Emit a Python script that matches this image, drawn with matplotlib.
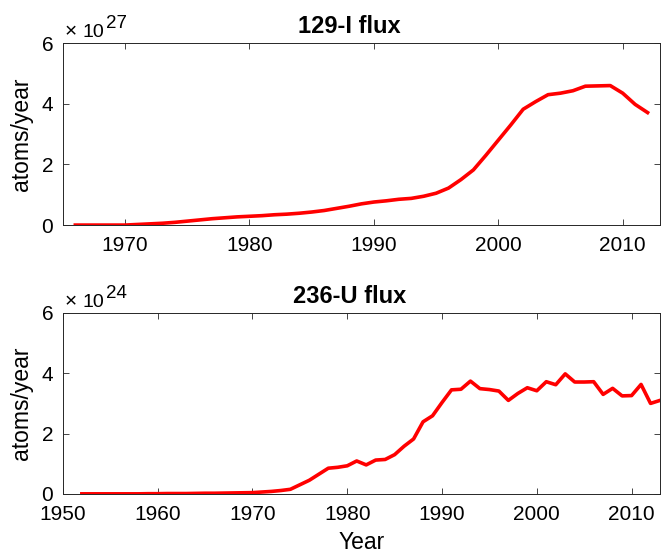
import numpy as np
import matplotlib
matplotlib.use('Agg')
import matplotlib.pyplot as plt

plt.rcParams['font.family'] = ['Liberation Sans', 'DejaVu Sans']

# 129-I flux, units of 1e27 atoms/year
years_i = list(range(1966, 2013))
flux_i = [0.0, 0.0, 0.0, 0.0, 0.0, 0.02, 0.04, 0.06, 0.09, 0.13,
          0.17, 0.21, 0.24, 0.27, 0.29, 0.31, 0.34, 0.36, 0.39, 0.43,
          0.48, 0.55, 0.62, 0.70, 0.76, 0.80, 0.85, 0.88, 0.95, 1.05,
          1.22, 1.50, 1.82, 2.30, 2.80, 3.30, 3.82, 4.07, 4.30, 4.35,
          4.43, 4.58, 4.59, 4.60, 4.35, 3.98, 3.71]

# 236-U flux, units of 1e24 atoms/year
years_u = list(range(1952, 2014))
flux_u = [0.0, 0.0, 0.0, 0.0, 0.0, 0.0, 0.0, 0.005, 0.005, 0.01,
          0.01, 0.01, 0.015, 0.02, 0.02, 0.025, 0.03, 0.035, 0.04, 0.06,
          0.08, 0.11, 0.15, 0.30, 0.45, 0.65, 0.85, 0.88, 0.93, 1.09,
          0.96, 1.12, 1.14, 1.30, 1.58, 1.82, 2.39, 2.59, 3.03, 3.45,
          3.47, 3.74, 3.49, 3.46, 3.41, 3.10, 3.33, 3.52, 3.42, 3.72,
          3.62, 3.98, 3.71, 3.71, 3.72, 3.30, 3.50, 3.25, 3.26, 3.63,
          3.00, 3.10]

W, H = 662, 553
fig = plt.figure(figsize=(W / 100, H / 100), dpi=100)
ax1 = fig.add_axes([0.095, 0.593, 0.902, 0.329])
ax2 = fig.add_axes([0.095, 0.107, 0.902, 0.327])

panels = [
    (ax1, years_i, flux_i, '129-I flux', 27, (1965, 2013), range(1970, 2011, 10), 0),
    (ax2, years_u, flux_u, '236-U flux', 24, (1950, 2013), range(1950, 2011, 10), 270),
]

for ax, x, y, title, expo, xlim, xt, dy in panels:
    ax.plot(x, y, color='red', lw=2.6)
    ax.set_xlim(*xlim)
    ax.set_ylim(0, 6)
    ax.set_xticks(list(xt))
    ax.set_yticks([0, 2, 4, 6])
    ax.tick_params(direction='in', length=4, width=0.6, labelsize=15,
                   top=True, right=True, color='#262626')
    ax.tick_params(axis='x', pad=8)
    ax.tick_params(axis='y', pad=7)
    for s in ax.spines.values():
        s.set_linewidth(0.7)
        s.set_color('#262626')
    ax.set_title(title, fontsize=17, fontweight='bold', x=0.48, pad=7)
    ax.set_ylabel('atoms/year', fontsize=16.5, labelpad=6)
    # scale factor above the y axis, placed in pixel units
    fig.text(65 / W, 1 - (37 + dy) / H, '×', fontsize=15, va='baseline')
    fig.text(82 / W, 1 - (37 + dy) / H, '10', fontsize=14, va='baseline')
    fig.text(106 / W, 1 - (28 + dy) / H, str(expo), fontsize=13.5, va='baseline')

ax2.set_xlabel('Year', fontsize=16.5, labelpad=5)

fig.savefig('out.png', dpi=100)
